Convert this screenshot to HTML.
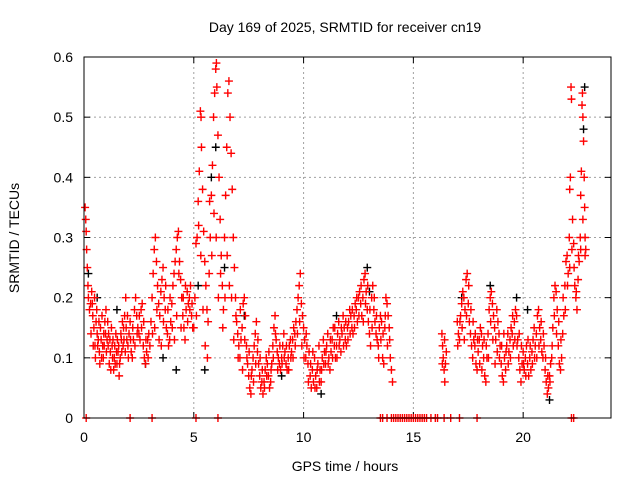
<!DOCTYPE html>
<html><head><meta charset="utf-8"><style>
body{margin:0;background:#fff}
svg{display:block;font-family:"Liberation Sans",Arial,sans-serif;font-size:14px}
</style></head><body>
<svg id="c" width="640" height="480"></svg>
<script>
const redT=[0.05,0.08,0.1,0.12,0.15,0.18,0.2,0.25,0.3,0.35,0.4,0.45,0.5,0.55,0.6,0.65,0.7,0.75,0.8,0.85,0.9,0.95,1.0,1.05,1.1,1.15,1.2,1.25,1.3,1.35,1.4,1.45,1.5,1.55,1.6,1.65,1.7,1.75,1.8,1.85,1.9,1.95,2.0,2.05,2.1,2.15,2.2,2.25,2.3,2.35,2.4,2.45,2.5,2.55,2.6,2.65,2.7,2.75,2.8,2.85,2.9,2.95,3.0,3.05,3.1,3.15,3.2,3.25,3.3,3.35,3.4,3.45,3.5,3.55,3.6,3.65,3.7,3.75,3.8,3.85,3.9,3.95,4.0,4.05,4.1,4.15,4.2,4.25,4.3,4.35,4.4,4.45,4.5,4.55,4.6,4.65,4.7,4.75,4.8,4.85,4.9,4.95,5.0,5.05,5.1,5.15,5.2,5.25,5.3,5.33,5.35,5.4,5.45,5.5,5.55,5.6,5.65,5.7,5.75,5.8,5.85,5.9,5.95,6.0,6.03,6.05,6.1,6.15,6.2,6.25,6.3,6.35,6.4,6.45,6.5,6.55,6.6,6.65,6.7,6.75,6.8,6.85,6.9,6.95,7.0,7.05,7.1,7.15,7.2,7.25,7.3,7.35,7.4,7.45,7.5,7.55,7.6,7.65,7.7,7.75,7.8,7.85,7.9,7.95,8.0,8.05,8.1,8.15,8.2,8.25,8.3,8.35,8.4,8.45,8.5,8.55,8.6,8.65,8.7,8.75,8.8,8.85,8.9,8.95,9.0,9.05,9.1,9.15,9.2,9.25,9.3,9.35,9.4,9.45,9.5,9.55,9.6,9.65,9.7,9.75,9.8,9.85,9.9,9.95,10.0,10.05,10.1,10.15,10.2,10.25,10.3,10.35,10.4,10.45,10.5,10.55,10.6,10.65,10.7,10.75,10.8,10.85,10.9,10.95,11.0,11.05,11.1,11.15,11.2,11.25,11.3,11.35,11.4,11.45,11.5,11.55,11.6,11.65,11.7,11.75,11.8,11.85,11.9,11.95,12.0,12.05,12.1,12.15,12.2,12.25,12.3,12.35,12.4,12.45,12.5,12.55,12.6,12.65,12.7,12.75,12.8,12.85,12.9,12.95,13.0,13.05,13.1,13.15,13.2,13.25,13.3,13.35,13.4,13.45,13.5,13.55,13.6,13.65,13.7,13.75,13.8,13.85,13.9,13.95,14.0,14.05,16.3,16.33,16.36,16.4,16.43,16.46,16.5,17.0,17.05,17.1,17.15,17.2,17.25,17.3,17.35,17.4,17.45,17.5,17.55,17.6,17.65,17.7,17.75,17.8,17.85,17.9,17.95,18.0,18.05,18.1,18.15,18.2,18.25,18.3,18.35,18.4,18.45,18.5,18.55,18.6,18.65,18.7,18.75,18.8,18.85,18.9,18.95,19.0,19.05,19.1,19.15,19.2,19.25,19.3,19.35,19.4,19.45,19.5,19.55,19.6,19.65,19.7,19.75,19.8,19.85,19.9,19.95,20.0,20.05,20.1,20.15,20.2,20.25,20.3,20.35,20.4,20.45,20.5,20.55,20.6,20.65,20.7,20.75,20.8,20.85,20.9,20.95,21.0,21.05,21.1,21.15,21.2,21.25,21.3,21.35,21.4,21.45,21.5,21.55,21.6,21.65,21.7,21.75,21.8,21.85,21.9,21.95,22.0,22.05,22.1,22.12,22.15,22.18,22.2,22.25,22.3,22.35,22.4,22.45,22.5,22.55,22.6,22.62,22.65,22.68,22.7,22.72,22.75,22.78,22.8,22.82,22.85];
const redV=[.35,.33,.31,.28,.25,.22,.2,.18,.19,.21,.17,.15,.12,.16,.14,.13,.11,.15,.1,.12,.14,.16,.18,.13,.12,.09,.11,.15,.1,.08,.12,.14,.09,.11,.07,.1,.13,.16,.15,.17,.2,.13,.12,.14,.16,.11,.1,.13,.18,.2,.17,.15,.14,.13,.18,.19,.12,.1,.09,.11,.13,.14,.12,.16,.2,.24,.28,.3,.26,.22,.19,.17,.21,.23,.25,.2,.18,.15,.14,.12,.13,.16,.19,.22,.24,.26,.28,.3,.31,.26,.23,.2,.17,.15,.13,.18,.21,.19,.2,.22,.17,.15,.15,.2,.29,.3,.36,.41,.51,.5,.45,.38,.31,.26,.22,.18,.16,.24,.3,.37,.42,.5,.54,.58,.59,.55,.47,.4,.33,.27,.22,.18,.3,.37,.45,.54,.56,.5,.44,.38,.3,.25,.2,.16,.14,.12,.1,.13,.15,.19,.2,.17,.12,.09,.07,.05,.04,.08,.1,.12,.14,.16,.11,.09,.07,.05,.06,.04,.06,.08,.1,.09,.07,.05,.06,.09,.12,.15,.17,.13,.11,.1,.09,.08,.1,.12,.14,.11,.09,.08,.1,.12,.13,.11,.13,.15,.14,.16,.18,.2,.22,.24,.19,.17,.15,.13,.1,.12,.09,.11,.07,.05,.08,.06,.1,.07,.05,.09,.12,.08,.06,.1,.13,.11,.09,.12,.14,.1,.08,.11,.13,.15,.12,.1,.12,.14,.16,.13,.11,.14,.17,.15,.13,.12,.15,.16,.18,.17,.15,.14,.17,.19,.18,.16,.2,.21,.19,.17,.2,.23,.24,.21,.18,.16,.14,.12,.2,.22,.18,.16,.14,.13,.12,.15,.17,.16,.1,.09,.15,.2,.19,.17,.15,.1,.08,.06,.14,.12,.1,.08,.06,.09,.11,.16,.14,.13,.17,.19,.21,.2,.18,.23,.24,.19,.16,.14,.12,.1,.13,.12,.09,.08,.11,.13,.15,.14,.12,.1,.07,.06,.1,.14,.18,.2,.21,.19,.17,.15,.13,.18,.16,.14,.12,.09,.07,.06,.1,.08,.12,.14,.11,.13,.15,.14,.12,.16,.18,.17,.13,.1,.08,.06,.09,.11,.08,.1,.12,.09,.07,.1,.08,.11,.13,.15,.12,.14,.17,.18,.15,.13,.11,.1,.12,.08,.06,.04,.05,.07,.09,.1,.15,.2,.22,.21,.18,.12,.09,.08,.1,.14,.17,.22,.26,.27,.24,.3,.38,.4,.55,.53,.33,.29,.22,.2,.18,.23,.26,.3,.37,.41,.52,.54,.5,.46,.4,.35,.3,.28];
const redT2=[0.32,0.38,0.42,0.48,0.52,0.58,0.62,0.68,0.72,0.78,0.82,0.88,0.92,0.98,1.02,1.08,1.12,1.18,1.22,1.28,1.32,1.38,1.42,1.48,1.52,1.58,1.62,1.68,1.72,1.78,1.82,1.88,1.92,1.98,2.02,2.12,2.22,2.32,2.42,2.52,2.62,2.72,2.82,2.92,3.12,3.22,3.32,3.42,3.52,3.62,3.72,3.82,3.92,4.02,4.12,4.22,4.32,4.42,4.52,4.62,4.72,4.82,4.92,5.12,5.22,5.32,5.42,5.52,5.62,5.72,5.82,5.92,6.02,6.12,6.22,6.32,6.42,6.52,6.62,6.72,6.82,6.92,7.02,7.12,7.22,7.32,7.42,7.52,7.62,7.72,7.82,7.92,8.02,8.12,8.22,8.32,8.42,8.52,8.62,8.72,8.82,8.92,9.02,9.12,9.22,9.32,9.42,9.52,9.62,9.72,9.82,9.92,10.02,10.12,10.22,10.32,10.42,10.52,10.62,10.72,10.82,10.92,11.02,11.12,11.22,11.32,11.42,11.52,11.62,11.72,11.82,11.92,12.02,12.12,12.22,12.32,12.42,12.52,12.62,12.72,12.82,12.92,13.02,13.12,13.22,13.32,13.42,13.52,13.62,13.72,13.82,13.92,16.32,16.42,17.02,17.12,17.22,17.32,17.42,17.52,17.62,17.72,17.82,17.92,18.02,18.12,18.22,18.32,18.42,18.52,18.62,18.72,18.82,18.92,19.02,19.12,19.22,19.32,19.42,19.52,19.62,19.72,19.82,19.92,20.02,20.12,20.22,20.32,20.42,20.52,20.62,20.72,20.82,20.92,21.02,21.12,21.22,21.32,21.42,21.52,21.62,21.72,21.82,21.92,22.02,22.12,22.22,22.32,22.42,22.52,22.62,22.72,22.82];
const redV2=[.14,.19,.12,.2,.1,.18,.12,.16,.09,.13,.17,.1,.12,.14,.11,.16,.14,.13,.08,.12,.13,.1,.09,.11,.13,.12,.09,.14,.11,.12,.13,.11,.15,.17,.1,.13,.15,.12,.14,.17,.15,.16,.13,.1,.14,.15,.18,.13,.12,.16,.22,.18,.2,.15,.13,.17,.24,.15,.2,.22,.16,.18,.19,.17,.32,.27,.18,.12,.1,.36,.27,.34,.3,.2,.24,.15,.2,.27,.22,.2,.13,.17,.1,.18,.08,.13,.1,.11,.07,.06,.09,.13,.1,.08,.05,.07,.11,.08,.1,.14,.08,.12,.09,.1,.12,.08,.1,.1,.12,.14,.16,.12,.1,.14,.06,.09,.11,.05,.08,.06,.08,.09,.11,.09,.13,.1,.15,.1,.12,.15,.12,.16,.13,.14,.18,.15,.2,.17,.22,.16,.19,.22,.18,.15,.2,.17,.1,.13,.14,.17,.12,.13,.09,.13,.12,.16,.15,.13,.17,.22,.18,.16,.14,.13,.09,.08,.13,.12,.1,.16,.13,.09,.11,.1,.12,.14,.11,.09,.1,.17,.13,.12,.14,.12,.09,.07,.13,.12,.09,.1,.1,.12,.16,.14,.1,.07,.06,.12,.17,.14,.16,.13,.2,.18,.22,.25,.28,.25,.21,.27,.28,.33,.27];
const zeroT=[0.1,2.1,3.1,5.1,6.1,13.5,13.6,13.8,14.0,14.1,14.2,14.3,14.4,14.5,14.6,14.7,14.8,14.9,15.0,15.1,15.2,15.3,15.4,15.5,15.6,15.8,16.0,16.1,16.4,16.7,17.1,17.9,22.2,22.3];
const blackT=[0.2,1.5,3.6,4.2,5.2,5.5,5.8,6.0,6.4,9.0,10.8,12.9,13.0,17.2,18.5,19.7,21.2,22.75,22.8,0.6,2.8,7.3,11.5,20.2];
const blackV=[.24,.18,.1,.08,.22,.08,.4,.45,.25,.07,.04,.25,.21,.2,.22,.2,.03,.48,.55,.2,.09,.17,.17,.18];
const xTicks=[0,5,10,15,20];
const yTicks=[0,0.1,0.2,0.3,0.4,0.5,0.6];
const yLabels=["0","0.1","0.2","0.3","0.4","0.5","0.6"];

const L=84,R=611,T=57,B=418,XMAX=24,YMAX=0.6;
const X=t=>L+t/XMAX*(R-L), Y=v=>B-v/YMAX*(B-T);
const svg=document.getElementById('c'),NS='http://www.w3.org/2000/svg';
function mk(tag,at,txt){const e=document.createElementNS(NS,tag);for(const k in at)e.setAttribute(k,at[k]);if(txt!=null)e.textContent=txt;svg.appendChild(e);return e;}
let e;
xTicks.forEach(t=>{const x=X(t);
 if(t>0){e=mk('line',{x1:x,x2:x,y1:T,y2:B,stroke:'#a0a0a0','stroke-dasharray':'2,3'});
 
 }
 mk('line',{x1:x,x2:x,y1:B,y2:B-6,stroke:'#000'});mk('line',{x1:x,x2:x,y1:T,y2:T+6,stroke:'#000'});
 e=mk('text',{x:x,y:442,'text-anchor':'middle'},String(t));
 
 });
yTicks.forEach((v,i)=>{const y=Y(v);
 if(v>0&&v<YMAX){e=mk('line',{x1:L,x2:R,y1:y,y2:y,stroke:'#a0a0a0','stroke-dasharray':'2,3'});
 
 }
 mk('line',{x1:L,x2:L+6,y1:y,y2:y,stroke:'#000'});mk('line',{x1:R,x2:R-6,y1:y,y2:y,stroke:'#000'});
 e=mk('text',{x:73,y:y+5,'text-anchor':'end'},yLabels[i]);
 
 });
function plus(t,v,col,name){const x=X(t),y=Y(v);
 e=mk('path',{d:`M${x-4} ${y}h8M${x} ${y-4}v8`,stroke:col,'stroke-width':1.4,fill:'none'});
 
 }
blackT.forEach((t,i)=>plus(t,blackV[i],'#000','black-point'));
redT.forEach((t,i)=>plus(t,redV[i],'#f00','red-point'));
redT2.forEach((t,i)=>plus(t,redV2[i],'#f00','red-point'));
zeroT.forEach(t=>plus(t,0,'#f00','zero-point'));
e=mk('rect',{x:L,y:T,width:R-L,height:B-T,fill:'none',stroke:'#000'});


e=mk('text',{x:345,y:32,'text-anchor':'middle'},'Day 169 of 2025, SRMTID for receiver cn19');


e=mk('text',{x:345,y:471,'text-anchor':'middle'},'GPS time / hours');


e=mk('text',{x:0,y:0,'text-anchor':'middle',transform:'translate(19,238) rotate(-90)'},'SRMTID / TECUs');


</script>
</body></html>
